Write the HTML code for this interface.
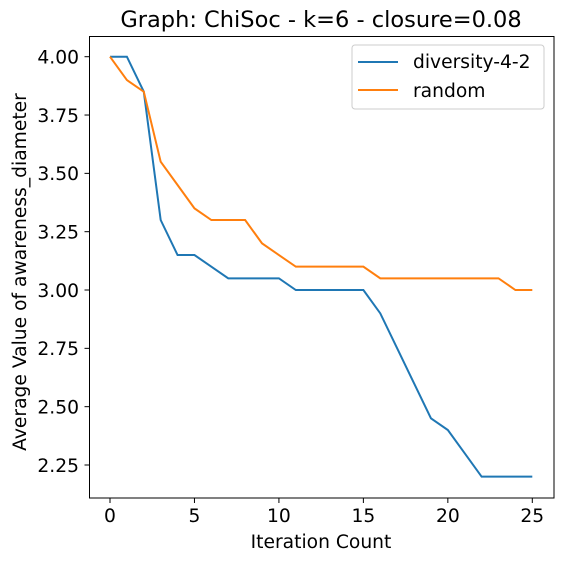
<!DOCTYPE html>
<html><head><meta charset="utf-8"><style>
html,body{margin:0;padding:0;background:#fff;}
svg text{font-family:"DejaVu Sans","Liberation Sans",sans-serif;fill:#000;}
</style></head><body>
<svg id="chart" width="567" height="561" xmlns="http://www.w3.org/2000/svg">
<text x="321" y="27" font-size="22.5" text-anchor="middle">Graph: ChiSoc - k=6 - closure=0.08</text>
<g id="plot"></g>
<rect x="89.5" y="36.5" width="464.5" height="461.5" fill="none" stroke="#000" stroke-width="1"/>
<text x="321" y="548" font-size="18.7" text-anchor="middle">Iteration Count</text>
<text transform="translate(26,272) rotate(-90)" font-size="18.7" text-anchor="middle">Average Value of awareness_diameter</text>
<g>
<rect x="352" y="45" width="192" height="64" rx="3" fill="#fff" fill-opacity="0.8" stroke="#ccc"/>
<line x1="358" y1="62" x2="398" y2="62" stroke="#1f77b4" stroke-width="2"/>
<text x="413" y="68" font-size="18.7">diversity-4-2</text>
<line x1="358" y1="90" x2="398" y2="90" stroke="#ff7f0e" stroke-width="2"/>
<text x="413" y="97" font-size="18.7">random</text>
</g>
</svg>
<script>
const iterations = [0,1,2,3,4,5,6,7,8,9,10,11,12,13,14,15,16,17,18,19,20,21,22,23,24,25];
const diversityValues = [4,4,3.85,3.3,3.15,3.15,3.1,3.05,3.05,3.05,3.05,3.0,3.0,3.0,3.0,3.0,2.9,2.75,2.6,2.45,2.4,2.3,2.2,2.2,2.2,2.2];
const randomValues = [4,3.9,3.85,3.55,3.45,3.35,3.3,3.3,3.3,3.2,3.15,3.1,3.1,3.1,3.1,3.1,3.05,3.05,3.05,3.05,3.05,3.05,3.05,3.05,3.0,3.0];
const xTicks = [0,5,10,15,20,25];
const yTicks = [2.25,2.5,2.75,3.0,3.25,3.5,3.75,4.0];

const NS = "http://www.w3.org/2000/svg";
function xScale(v){ return 110 + v * (532.3 - 110) / 25; }
function yScale(v){ return 56.7 + (4 - v) * (465 - 56.7) / 1.75; }
const plot = document.getElementById('plot');

xTicks.forEach(t => {
  const x = xScale(t);
  const l = document.createElementNS(NS,'line');
  l.setAttribute('x1',x); l.setAttribute('x2',x); l.setAttribute('y1',498); l.setAttribute('y2',503);
  l.setAttribute('stroke','#000');
  
  
  plot.appendChild(l);
  const tx = document.createElementNS(NS,'text');
  tx.setAttribute('x',x); tx.setAttribute('y',522); tx.setAttribute('font-size','18.7'); tx.setAttribute('text-anchor','middle');
  tx.textContent = t;
  
  
  plot.appendChild(tx);
});
yTicks.forEach(t => {
  const y = yScale(t);
  const l = document.createElementNS(NS,'line');
  l.setAttribute('x1',84.5); l.setAttribute('x2',89.5); l.setAttribute('y1',y); l.setAttribute('y2',y);
  l.setAttribute('stroke','#000');
  
  
  plot.appendChild(l);
  const tx = document.createElementNS(NS,'text');
  tx.setAttribute('x',79); tx.setAttribute('y',y+6.8); tx.setAttribute('font-size','18.7'); tx.setAttribute('text-anchor','end');
  tx.textContent = t.toFixed(2);
  
  
  plot.appendChild(tx);
});
function drawLine(vals, color, name){
  const p = document.createElementNS(NS,'polyline');
  p.setAttribute('points', vals.map((v,i)=>xScale(iterations[i])+','+yScale(v)).join(' '));
  p.setAttribute('fill','none'); p.setAttribute('stroke',color); p.setAttribute('stroke-width','2');
  
  
  plot.appendChild(p);
}
drawLine(diversityValues,'#1f77b4','series-diversity-4-2');
drawLine(randomValues,'#ff7f0e','series-random');
</script>
</body></html>
